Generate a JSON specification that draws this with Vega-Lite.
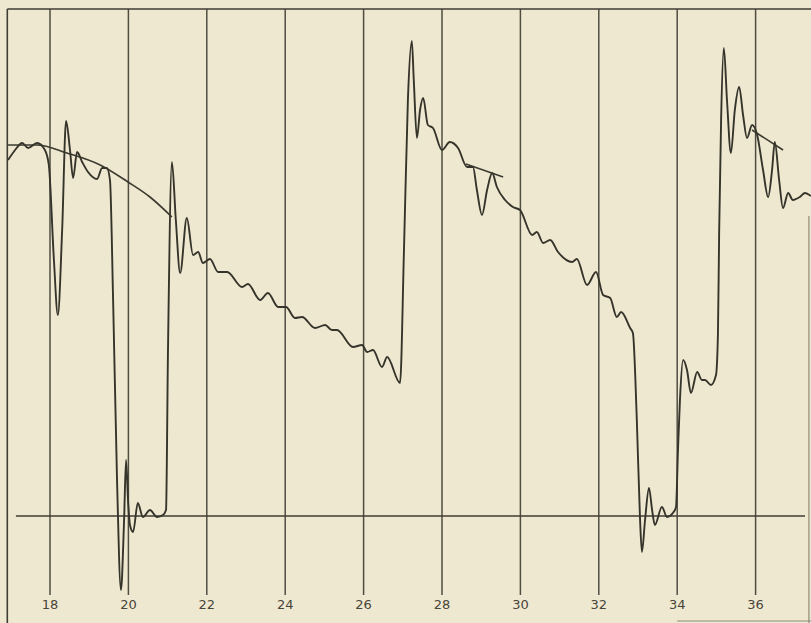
{
  "$schema": "https://vega.github.io/schema/vega-lite/v6.json",
  "width": 811,
  "height": 623,
  "padding": 0,
  "autosize": {"type": "none"},
  "background": "#efe8d0",
  "config": {"view": {"stroke": null}},
  "layer": [
    {
      "data": {"values": [
        {"x": 18}, {"x": 20}, {"x": 22}, {"x": 24}, {"x": 26},
        {"x": 28}, {"x": 30}, {"x": 32}, {"x": 34}, {"x": 36}
      ]},
      "mark": {"type": "rule", "color": "#4f4d42", "strokeWidth": 1.5},
      "encoding": {
        "x": {"field": "x", "type": "quantitative", "scale": {"domain": [16.7245, 37.4133], "nice": false, "zero": false}, "axis": null},
        "y": {"datum": 507, "type": "quantitative", "scale": {"domain": [-107, 516], "nice": false, "zero": false}, "axis": null},
        "y2": {"datum": -79}
      }
    },
    {
      "data": {"values": [
        {"x": 18, "label": "18"}, {"x": 20, "label": "20"}, {"x": 22, "label": "22"},
        {"x": 24, "label": "24"}, {"x": 26, "label": "26"}, {"x": 28, "label": "28"},
        {"x": 30, "label": "30"}, {"x": 32, "label": "32"}, {"x": 34, "label": "34"},
        {"x": 36, "label": "36"}
      ]},
      "mark": {"type": "text", "color": "#48453a", "fontSize": 13, "font": "DejaVu Sans", "baseline": "middle", "align": "center"},
      "encoding": {
        "x": {"field": "x", "type": "quantitative"},
        "y": {"datum": -89, "type": "quantitative"},
        "text": {"field": "label"}
      }
    },
    {
      "data": {"values": [
        {"x": 16.911, "x2": 16.911, "y": 507, "y2": -107},
        {"x": 16.911, "x2": 37.4133, "y": 507, "y2": 507},
        {"x": 17.13, "x2": 37.26, "y": 0, "y2": 0}
      ]},
      "mark": {"type": "rule", "color": "#3f3d34", "strokeWidth": 1.6},
      "encoding": {
        "x": {"field": "x", "type": "quantitative"},
        "x2": {"field": "x2"},
        "y": {"field": "y", "type": "quantitative"},
        "y2": {"field": "y2"}
      }
    },
    {
      "data": {"values": [
        {"x": 34.0, "x2": 37.4133, "y": -105, "y2": -105},
        {"x": 37.36, "x2": 37.36, "y": -107, "y2": 300}
      ]},
      "mark": {"type": "rule", "color": "#8e8a78", "strokeWidth": 1.2},
      "encoding": {
        "x": {"field": "x", "type": "quantitative"},
        "x2": {"field": "x2"},
        "y": {"field": "y", "type": "quantitative"},
        "y2": {"field": "y2"}
      }
    },
    {
      "data": {"values": [
        {"curve": "a", "x": 16.93, "y": 371}, {"curve": "a", "x": 17.67, "y": 371},
        {"curve": "a", "x": 18.43, "y": 363}, {"curve": "a", "x": 19.28, "y": 351},
        {"curve": "a", "x": 19.99, "y": 334}, {"curve": "a", "x": 20.55, "y": 319},
        {"curve": "a", "x": 21.11, "y": 299},
        {"curve": "b", "x": 28.61, "y": 352}, {"curve": "b", "x": 29.56, "y": 339},
        {"curve": "c", "x": 35.91, "y": 386}, {"curve": "c", "x": 36.70, "y": 366}
      ]},
      "mark": {"type": "line", "color": "#3b3a30", "strokeWidth": 1.6, "interpolate": "monotone"},
      "encoding": {
        "x": {"field": "x", "type": "quantitative"},
        "y": {"field": "y", "type": "quantitative"},
        "detail": {"field": "curve"}
      }
    },
    {
      "data": {"values": [
        {"x": 16.93, "y": 356}, {"x": 17.11, "y": 366}, {"x": 17.29, "y": 373}, {"x": 17.44, "y": 368},
        {"x": 17.67, "y": 373}, {"x": 17.87, "y": 366}, {"x": 17.97, "y": 351}, {"x": 18.10, "y": 256},
        {"x": 18.20, "y": 201}, {"x": 18.31, "y": 286}, {"x": 18.41, "y": 395}, {"x": 18.51, "y": 366},
        {"x": 18.59, "y": 338}, {"x": 18.69, "y": 364}, {"x": 18.82, "y": 354}, {"x": 18.97, "y": 344},
        {"x": 19.20, "y": 337}, {"x": 19.33, "y": 348}, {"x": 19.45, "y": 348}, {"x": 19.53, "y": 336},
        {"x": 19.61, "y": 216}, {"x": 19.71, "y": 36}, {"x": 19.81, "y": -74}, {"x": 19.89, "y": -4},
        {"x": 19.94, "y": 56}, {"x": 19.99, "y": 16}, {"x": 20.04, "y": -9}, {"x": 20.12, "y": -16},
        {"x": 20.24, "y": 13}, {"x": 20.37, "y": -1}, {"x": 20.55, "y": 6}, {"x": 20.73, "y": -1},
        {"x": 20.88, "y": 1}, {"x": 20.96, "y": 6}, {"x": 21.01, "y": 166}, {"x": 21.11, "y": 354},
        {"x": 21.21, "y": 296}, {"x": 21.32, "y": 243}, {"x": 21.49, "y": 298}, {"x": 21.65, "y": 261},
        {"x": 21.78, "y": 264}, {"x": 21.90, "y": 253}, {"x": 22.08, "y": 257}, {"x": 22.29, "y": 244},
        {"x": 22.52, "y": 244}, {"x": 22.90, "y": 229}, {"x": 23.05, "y": 232}, {"x": 23.36, "y": 216},
        {"x": 23.56, "y": 223}, {"x": 23.82, "y": 209}, {"x": 24.02, "y": 209}, {"x": 24.25, "y": 198},
        {"x": 24.43, "y": 199}, {"x": 24.76, "y": 188}, {"x": 25.02, "y": 191}, {"x": 25.19, "y": 186},
        {"x": 25.32, "y": 186}, {"x": 25.73, "y": 169}, {"x": 25.96, "y": 171}, {"x": 26.09, "y": 164},
        {"x": 26.24, "y": 166}, {"x": 26.47, "y": 149}, {"x": 26.60, "y": 159}, {"x": 26.93, "y": 133},
        {"x": 27.03, "y": 266}, {"x": 27.13, "y": 416}, {"x": 27.23, "y": 475}, {"x": 27.28, "y": 436},
        {"x": 27.36, "y": 378}, {"x": 27.44, "y": 406}, {"x": 27.52, "y": 418}, {"x": 27.64, "y": 391},
        {"x": 27.77, "y": 388}, {"x": 28.00, "y": 366}, {"x": 28.20, "y": 374}, {"x": 28.41, "y": 368},
        {"x": 28.64, "y": 349}, {"x": 28.79, "y": 349}, {"x": 28.89, "y": 326}, {"x": 29.02, "y": 301},
        {"x": 29.15, "y": 326}, {"x": 29.28, "y": 343}, {"x": 29.40, "y": 329}, {"x": 29.61, "y": 316},
        {"x": 29.81, "y": 309}, {"x": 29.99, "y": 306}, {"x": 30.30, "y": 281}, {"x": 30.42, "y": 284},
        {"x": 30.58, "y": 273}, {"x": 30.76, "y": 276}, {"x": 30.96, "y": 264}, {"x": 31.32, "y": 254},
        {"x": 31.44, "y": 257}, {"x": 31.70, "y": 231}, {"x": 31.93, "y": 244}, {"x": 32.11, "y": 221},
        {"x": 32.29, "y": 218}, {"x": 32.46, "y": 199}, {"x": 32.57, "y": 204}, {"x": 32.80, "y": 188},
        {"x": 32.87, "y": 183}, {"x": 32.97, "y": 96}, {"x": 33.05, "y": -1}, {"x": 33.10, "y": -36},
        {"x": 33.18, "y": -4}, {"x": 33.28, "y": 28}, {"x": 33.36, "y": 6}, {"x": 33.43, "y": -9},
        {"x": 33.61, "y": 9}, {"x": 33.74, "y": -1}, {"x": 33.89, "y": 3}, {"x": 33.97, "y": 9},
        {"x": 34.02, "y": 66}, {"x": 34.07, "y": 116}, {"x": 34.15, "y": 156}, {"x": 34.25, "y": 146},
        {"x": 34.35, "y": 123}, {"x": 34.51, "y": 144}, {"x": 34.63, "y": 136}, {"x": 34.71, "y": 136},
        {"x": 34.86, "y": 131}, {"x": 34.99, "y": 141}, {"x": 35.04, "y": 183}, {"x": 35.07, "y": 283},
        {"x": 35.12, "y": 396}, {"x": 35.19, "y": 468}, {"x": 35.27, "y": 416}, {"x": 35.37, "y": 363},
        {"x": 35.47, "y": 406}, {"x": 35.58, "y": 429}, {"x": 35.68, "y": 401}, {"x": 35.78, "y": 378},
        {"x": 35.91, "y": 391}, {"x": 36.04, "y": 381}, {"x": 36.19, "y": 346}, {"x": 36.32, "y": 319},
        {"x": 36.42, "y": 346}, {"x": 36.49, "y": 374}, {"x": 36.60, "y": 336}, {"x": 36.70, "y": 308},
        {"x": 36.83, "y": 323}, {"x": 36.95, "y": 316}, {"x": 37.13, "y": 319}, {"x": 37.26, "y": 323},
        {"x": 37.41, "y": 320}
      ]},
      "mark": {"type": "line", "color": "#35342b", "strokeWidth": 1.9, "interpolate": "monotone"},
      "encoding": {
        "x": {"field": "x", "type": "quantitative"},
        "y": {"field": "y", "type": "quantitative"}
      }
    }
  ]
}
